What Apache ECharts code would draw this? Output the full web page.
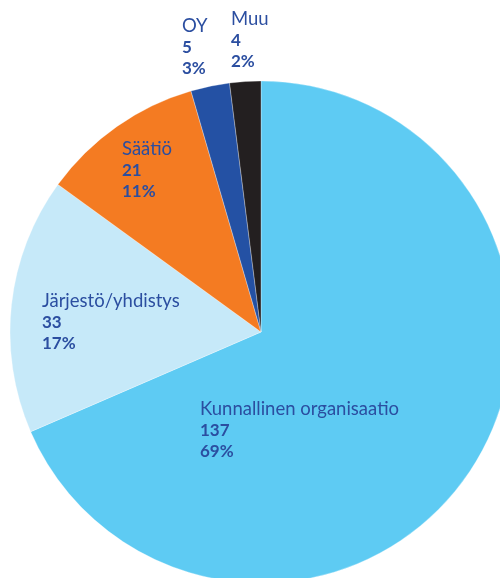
<!DOCTYPE html>
<html><head><meta charset="utf-8">
<script src="https://cdn.jsdelivr.net/npm/echarts@6/dist/echarts.min.js"></script>
<style>html,body{margin:0;padding:0;background:#fff}#c{width:500px;height:578px}</style>
</head><body><div id="c"></div>
<script>
const categories = ["Kunnallinen organisaatio", "Järjestö/yhdistys", "Säätiö", "OY", "Muu"];
const values = [137, 33, 21, 5, 4];
const percents = [69, 17, 11, 3, 2];
const colors = ["#5ecbf3", "#c6e9f9", "#f47b22", "#2451a4", "#231f20"];
const labelPos = [[200, 399], [42, 291], [122, 139], [182, 16], [231, 9]];

const chart = echarts.init(document.getElementById('c'), null, {renderer: 'canvas'});
chart.setOption({
  animation: false,
  series: [{
    type: 'pie',
    center: [261, 332],
    radius: 251,
    startAngle: 90,
    clockwise: true,
    data: categories.map((n, i) => ({name: n, value: values[i], itemStyle: {color: colors[i]}})),
    itemStyle: {borderColor: 'rgba(255,255,255,0.6)', borderWidth: 0.5},
    label: {
      show: true,
      position: 'inside',
      formatter: p => '{n|' + p.name + '}\n{v|' + values[p.dataIndex] + '}\n{v|' + percents[p.dataIndex] + '%}',
      rich: {
        n: {fontFamily: 'Lato', fontSize: 18.5, lineHeight: 21, color: '#2b4ea0'},
        v: {fontFamily: 'Lato', fontSize: 17, fontWeight: 'bold', lineHeight: 21, color: '#2b4ea0'}
      }
    },
    labelLine: {show: false},
    labelLayout: p => ({x: labelPos[p.dataIndex][0], y: labelPos[p.dataIndex][1], align: 'left', verticalAlign: 'top'}),
    emphasis: {disabled: true}
  }]
});
</script></body></html>
